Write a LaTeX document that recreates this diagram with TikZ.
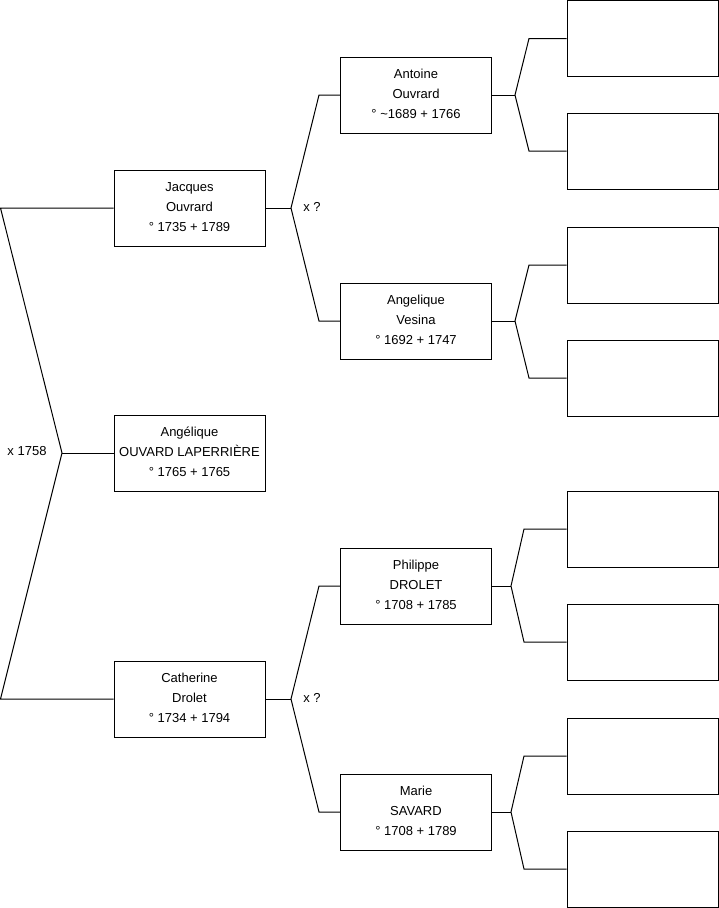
\documentclass[tikz,border=0pt]{standalone}
\usepackage{fontspec}
\setmainfont{Liberation Sans}
\usepackage{tikz}
\usetikzlibrary{calc}
\tikzstyle{person} = [draw,rectangle,line width=1pt,minimum width=151pt,minimum height=76pt,inner sep=0pt,align=center,text height=49pt,text depth=1.6pt,font=\fontsize{13}{20}\selectfont]
\tikzstyle{blank} = [draw,rectangle,line width=1pt,minimum width=151pt,minimum height=76pt,inner sep=0pt]
\tikzstyle{link} = [line width=1pt]
\tikzstyle{lbl} = [font=\fontsize{13}{15}\selectfont,inner sep=0pt]

\begin{document}
\begin{tikzpicture}[x=1pt,y=-1pt]
\useasboundingbox (0,0) rectangle (719,908);

% generation 1
\draw(189.5,208) node[person] (jacques) {Jacques\\Ouvrard\\° 1735 + 1789};
\draw(189.5,453) node[person] (angelique) {Angélique\\OUVARD LAPERRIÈRE\\° 1765 + 1765};
\draw(189.5,699) node[person] (catherine) {Catherine\\Drolet\\° 1734 + 1794};

% generation 2
\draw(416,95) node[person] (antoine) {Antoine\\Ouvrard\\° \textasciitilde1689 + 1766};
\draw(416,321) node[person] (vesina) {Angelique\\Vesina\\° 1692 + 1747};
\draw(416,586) node[person] (philippe) {Philippe\\DROLET\\° 1708 + 1785};
\draw(416,812) node[person] (marie) {Marie\\SAVARD\\° 1708 + 1789};

% generation 3 (empty)
\draw(642.5,38.5) node[blank] (g1) {};
\draw(642.5,151) node[blank] (g2) {};
\draw(642.5,265) node[blank] (g3) {};
\draw(642.5,378) node[blank] (g4) {};
\draw(642.5,529) node[blank] (g5) {};
\draw(642.5,642) node[blank] (g6) {};
\draw(642.5,756) node[blank] (g7) {};
\draw(642.5,869) node[blank] (g8) {};

% marriage labels
\draw(27,451) node[lbl] (m0) {x 1758};
\draw(312,207) node[lbl] (m1) {x ?};
\draw(312,698) node[lbl] (m2) {x ?};

% fork points
\coordinate (r) at (62,453);
\coordinate (rt) at (0.5,208);
\coordinate (rb) at (0.5,699);
\coordinate (fa) at (291,208);
\coordinate (fat) at (319,95);
\coordinate (fab) at (319,321);
\coordinate (fb) at (291,699);
\coordinate (fbt) at (319,586);
\coordinate (fbb) at (319,812);
\coordinate (f1) at (515,95);
\coordinate (f1t) at (529,38.5);
\coordinate (f1b) at (529,151);
\coordinate (f2) at (515,321);
\coordinate (f2t) at (529,265);
\coordinate (f2b) at (529,378);
\coordinate (f3) at (511,586);
\coordinate (f3t) at (524,529);
\coordinate (f3b) at (524,642);
\coordinate (f4) at (511,812);
\coordinate (f4t) at (524,756);
\coordinate (f4b) at (524,869);

\draw[link] (jacques.west) -- (rt) -- (r) -- (rb) -- (catherine.west);
\draw[link] (r) -- (angelique.west);

\draw[link] (jacques.east) -- (fa);
\draw[link] (antoine.west) -- (fat) -- (fa) -- (fab) -- (vesina.west);
\draw[link] (catherine.east) -- (fb);
\draw[link] (philippe.west) -- (fbt) -- (fb) -- (fbb) -- (marie.west);

\draw[link] (antoine.east) -- (f1);
\draw[link] (g1.west) -- (f1t) -- (f1) -- (f1b) -- (g2.west);
\draw[link] (vesina.east) -- (f2);
\draw[link] (g3.west) -- (f2t) -- (f2) -- (f2b) -- (g4.west);
\draw[link] (philippe.east) -- (f3);
\draw[link] (g5.west) -- (f3t) -- (f3) -- (f3b) -- (g6.west);
\draw[link] (marie.east) -- (f4);
\draw[link] (g7.west) -- (f4t) -- (f4) -- (f4b) -- (g8.west);

\end{tikzpicture}
\end{document}
